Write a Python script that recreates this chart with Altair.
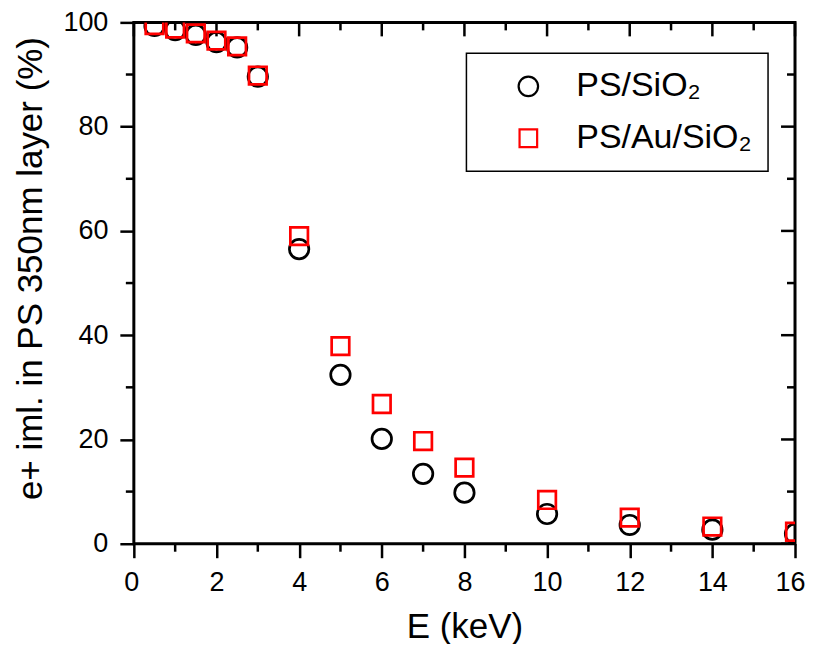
import altair as alt
import pandas as pd

# ---- data ----
energy = [0.5, 1, 1.5, 2, 2.5, 3, 4, 5, 6, 7, 8, 10, 12, 14, 16]
ps_sio2 = [99.3, 98.5, 97.6, 96.2, 95.2, 89.6, 56.5, 32.4, 20.1, 13.4, 9.8, 5.7, 3.6, 2.7, 1.9]
ps_au_sio2 = [99.5, 98.8, 97.9, 96.5, 95.4, 89.8, 59.0, 37.9, 26.8, 19.7, 14.6, 8.4, 5.0, 3.3, 2.3]
series_names = ["PS/SiO₂", "PS/Au/SiO₂"]
series_colors = ["#000000", "#ff0000"]
series_shapes = ["circle", "square"]

x_major = [0, 2, 4, 6, 8, 10, 12, 14, 16]
x_minor = [1, 3, 5, 7, 9, 11, 13, 15]
y_major = [0, 20, 40, 60, 80, 100]
y_minor = [10, 30, 50, 70, 90]

W, H = 662, 522
FONT = "Liberation Sans"

rows = []
for e, v in zip(energy, ps_sio2):
    rows.append({"E": e, "v": v, "s": series_names[0]})
for e, v in zip(energy, ps_au_sio2):
    rows.append({"E": e, "v": v, "s": series_names[1]})
df = pd.DataFrame(rows)

xs = alt.Scale(domain=[0, 16], nice=False, zero=False)
ys = alt.Scale(domain=[0, 100], nice=False, zero=False)

x_axis = alt.Axis(
    values=x_major, tickSize=14, tickWidth=2.5, tickColor="black", domain=False, grid=False,
    labelFont=FONT, labelFontSize=27, labelColor="black", labelBaseline="alphabetic",
    labelPadding=33, title="E (keV)", titleFont=FONT, titleFontSize=35,
    titleFontWeight="normal", titleColor="black", titleX=W / 2, titleY=94,
    titleBaseline="alphabetic", labelFlush=True, labelFlushOffset=10)
y_axis = alt.Axis(
    values=y_major, tickSize=14, tickWidth=2.5, tickColor="black", domain=False, grid=False,
    labelFont=FONT, labelFontSize=27, labelColor="black", labelPadding=12,
    title="e+ iml. in PS 350nm layer (%)", titleFont=FONT, titleFontSize=35,
    titleFontWeight="normal", titleColor="black", titleX=-92, titleY=246,
    titleBaseline="alphabetic", titleAlign="center", labelFlush=False)

leg = alt.Legend(
    orient="none", legendX=333, legendY=31, title=None,
    strokeColor="black", fillColor="white", padding=16,
    symbolOffset=29, labelOffset=31, rowPadding=18,
    symbolSize=340, symbolStrokeWidth=2.2,
    labelFont=FONT, labelFontSize=34, labelColor="black", labelLimit=400,
)

points = alt.Chart(df).mark_point(filled=False, strokeWidth=2.7, clip=True, opacity=1).encode(
    x=alt.X("E:Q", scale=xs, axis=x_axis),
    y=alt.Y("v:Q", scale=ys, axis=y_axis),
    shape=alt.Shape("s:N", scale=alt.Scale(domain=series_names, range=series_shapes), legend=leg),
    color=alt.Color("s:N", scale=alt.Scale(domain=series_names, range=series_colors), legend=leg),
    size=alt.Size("s:N", scale=alt.Scale(domain=series_names, range=[380, 310]), legend=None),
)


def vticks(vals, y0, y1):
    return alt.Chart(pd.DataFrame({"E": vals})).mark_rule(color="black", strokeWidth=2.5).encode(
        x=alt.X("E:Q", scale=xs, axis=x_axis), y=alt.value(y0), y2=alt.value(y1))


def hticks(vals, x0, x1):
    return alt.Chart(pd.DataFrame({"v": vals})).mark_rule(color="black", strokeWidth=2.5).encode(
        y=alt.Y("v:Q", scale=ys, axis=y_axis), x=alt.value(x0), x2=alt.value(x1))


chart = alt.layer(
    vticks(x_minor, H, H + 8),
    vticks(x_major, 0, 14),
    vticks(x_minor, 0, 8),
    hticks(y_minor, 0, -8),
    hticks(y_major, W, W - 14),
    hticks(y_minor, W, W - 8),
    points,
).properties(
    width=W, height=H,
    autosize=alt.AutoSizeParams(type="none"),
    padding={"left": 126, "top": 14, "right": 10, "bottom": 100},
    background="white",
).configure_view(
    stroke="black", strokeWidth=3
).configure_legend(
    strokeWidth=1.5
)

chart.save("out.html", embed_options={"renderer": "svg", "actions": False})
